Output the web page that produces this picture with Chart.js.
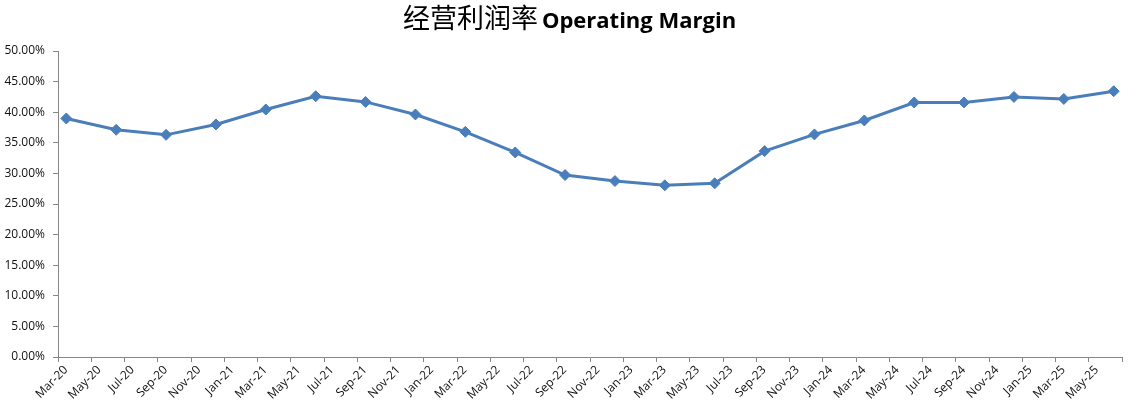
<!DOCTYPE html>
<html>
<head>
<meta charset="utf-8">
<script src="https://cdn.jsdelivr.net/npm/chart.js@4/dist/chart.umd.min.js"></script>
<style>
  html, body { margin: 0; padding: 0; background: #fff; }
  #wrap { position: relative; width: 1139px; height: 417px; }
  #title { position: absolute; left: 0; top: 1px; width: 1139px; text-align: center; color: #000; line-height: 32px; }
  #title .zh { font-family: "Noto Sans CJK SC", sans-serif; font-weight: 400; font-size: 27px; }
  #title .en { font-family: "Open Sans", sans-serif; font-weight: 700; font-size: 22px; }
  canvas { position: absolute; left: 0; top: 0; }
</style>
</head>
<body>
<div id="wrap">
  <canvas id="c" width="1139" height="417"></canvas>
  <div id="title"><span class="zh">经营利润率</span> <span class="en">Operating Margin</span></div>
</div>
<script>
// ---- data ----
const quarters = ['Mar-20','Jun-20','Sep-20','Dec-20','Mar-21','Jun-21','Sep-21','Dec-21',
                  'Mar-22','Jun-22','Sep-22','Dec-22','Mar-23','Jun-23','Sep-23','Dec-23',
                  'Mar-24','Jun-24','Sep-24','Dec-24','Mar-25','Jun-25'];
const operatingMargin = [38.98, 37.12, 36.30, 38.00, 40.44, 42.61, 41.68, 39.63,
                         36.79, 33.43, 29.73, 28.75, 28.05, 28.38, 33.64, 36.37,
                         38.65, 41.59, 41.59, 42.50, 42.17, 43.43];
const tickLabels = ['Mar-20','May-20','Jul-20','Sep-20','Nov-20',
                    'Jan-21','Mar-21','May-21','Jul-21','Sep-21','Nov-21',
                    'Jan-22','Mar-22','May-22','Jul-22','Sep-22','Nov-22',
                    'Jan-23','Mar-23','May-23','Jul-23','Sep-23','Nov-23',
                    'Jan-24','Mar-24','May-24','Jul-24','Sep-24','Nov-24',
                    'Jan-25','Mar-25','May-25'];
const yTicks = [0, 5, 10, 15, 20, 25, 30, 35, 40, 45, 50];

// month index counted from Mar-20 (0)
const MONTHS = ['Jan','Feb','Mar','Apr','May','Jun','Jul','Aug','Sep','Oct','Nov','Dec'];
function monthIndex(lbl) {
  const [m, y] = lbl.split('-');
  return (2000 + parseInt(y, 10) - 2020) * 12 + MONTHS.indexOf(m) - 2;
}
const firstIdx = monthIndex(tickLabels[0]);
const lastIdx = monthIndex(quarters[quarters.length - 1]) + 1; // end of the final month slot

const points = quarters.map((q, i) => ({ x: monthIndex(q) + 0.5, y: operatingMargin[i] }));

const AXIS = '#868686';
const FONT = { family: '"Open Sans", sans-serif', size: 12 };

new Chart(document.getElementById('c'), {
  type: 'line',
  data: {
    datasets: [{
      label: 'Operating Margin',
      data: points,
      borderColor: '#4A7EBB',
      backgroundColor: '#4A7EBB',
      borderWidth: 3,
      pointStyle: 'rectRot',
      pointRadius: 5.5,
      pointBorderWidth: 1,
      pointBackgroundColor: '#4A7EBB',
      pointBorderColor: '#4A7EBB',
      tension: 0,
      fill: false
    }]
  },
  options: {
    responsive: false,
    animation: false,
    devicePixelRatio: 1,
    layout: { padding: { top: 51, right: 17, bottom: 0, left: 0 } },
    plugins: { legend: { display: false }, title: { display: false }, tooltip: { enabled: false } },
    scales: {
      x: {
        type: 'linear',
        min: firstIdx,
        max: lastIdx,
        afterBuildTicks: (scale) => {
          const t = tickLabels.map((_, i) => ({ value: firstIdx + i * 2 }));
          t.push({ value: lastIdx });
          scale.ticks = t;
        },
        afterFit: (scale) => { scale.height = 60; },
        grid: { display: true, drawOnChartArea: false, drawTicks: true, tickLength: 5, color: AXIS, lineWidth: 1 },
        border: { display: true, color: AXIS, width: 1 },
        ticks: {
          autoSkip: false,
          maxRotation: 45,
          minRotation: 45,
          labelOffset: 8,
          padding: 1,
          color: '#111',
          font: FONT,
          callback: (v) => {
            const i = Math.round((v - firstIdx) / 2);
            return (v - firstIdx) % 2 === 0 && i < tickLabels.length ? tickLabels[i] : '';
          }
        }
      },
      y: {
        min: yTicks[0],
        max: yTicks[yTicks.length - 1],
        afterBuildTicks: (scale) => { scale.ticks = yTicks.map(v => ({ value: v })); },
        afterFit: (scale) => { scale.width = 58; },
        grid: { display: true, drawOnChartArea: false, drawTicks: true, tickLength: 5, color: AXIS, lineWidth: 1 },
        border: { display: true, color: AXIS, width: 1 },
        ticks: {
          padding: 8,
          color: '#111',
          font: FONT,
          callback: (v) => v.toFixed(2) + '%'
        }
      }
    }
  }
});
</script>
</body>
</html>
